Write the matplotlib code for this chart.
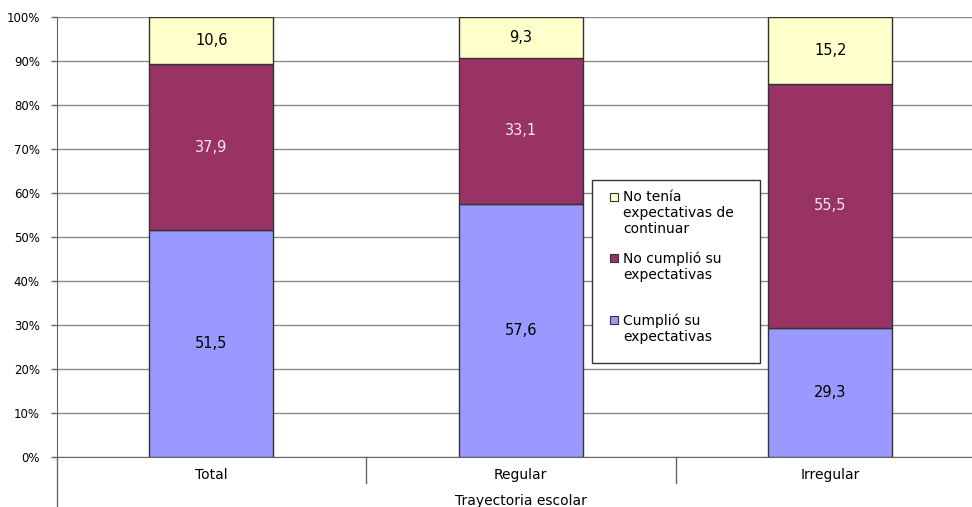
import matplotlib
matplotlib.use('Agg')
import matplotlib.pyplot as plt
from matplotlib.patches import Rectangle

# data
categories = ['Total', 'Regular', 'Irregular']
cumplio = [51.5, 57.6, 29.3]
no_cumplio = [37.9, 33.1, 55.5]
no_tenia = [10.6, 9.3, 15.2]
yticks = [0, 10, 20, 30, 40, 50, 60, 70, 80, 90, 100]

c_blue = '#9999FF'
c_purple = '#993366'
c_yellow = '#FFFFCC'

plt.rcParams['font.family'] = ['DejaVu Sans']

W, H = 972, 507
fig = plt.figure(figsize=(W / 100, H / 100), dpi=100)
# axes runs off the right edge like the original
ax = fig.add_axes([56.5 / W, (H - 457) / H, 928.5 / W, 440 / H])

x = list(range(len(categories)))
bw = 0.4
series = [(cumplio, c_blue, 'black'),
          (no_cumplio, c_purple, '#F4E6EE'),
          (no_tenia, c_yellow, 'black')]
bottom = [0.0] * len(x)
for vals, col, tcol in series:
    ax.bar(x, vals, bw, bottom=bottom, color=col, edgecolor='#333333',
           linewidth=1, zorder=3)
    for xi, b, v in zip(x, bottom, vals):
        ax.text(xi, b + v / 2, f'{v:.1f}'.replace('.', ','), ha='center',
                va='center', fontsize=10.5, color=tcol, zorder=4)
    bottom = [b + v for b, v in zip(bottom, vals)]

ax.set_xlim(-0.5, 2.5)
ax.set_ylim(0, 100)
ax.set_yticks(yticks)
ax.set_yticklabels([f'{t}%' for t in yticks], fontsize=8.5)
ax.yaxis.grid(True, color='#8a8a8a', linewidth=1, zorder=0)
ax.tick_params(axis='y', length=4, width=1, color='#666666', pad=8)
ax.set_xticks(x)
ax.set_xticklabels(categories, fontsize=10)
ax.tick_params(axis='x', length=0, pad=8)
for s in ['top', 'right']:
    ax.spines[s].set_visible(False)
ax.spines['left'].set_color('#666666')
ax.spines['bottom'].set_color('#666666')

# category separators and the long left line of the grouped axis
tr = ax.get_xaxis_transform()
for sx in [0.5, 1.5]:
    ax.plot([sx, sx], [0, -0.06], transform=tr, color='#666666', lw=1,
            clip_on=False)
ax.plot([-0.5, -0.5], [0, -0.12], transform=tr, color='#666666', lw=1,
        clip_on=False)
ax.text(0.5 * (len(x) - 1), -0.1, 'Trayectoria escolar', transform=tr,
        ha='center', va='center', fontsize=10)

# legend drawn by hand so markers sit at the first line of each label
def fx(px):
    return px / W

def fy(py):
    return 1 - py / H

fig.patches.append(Rectangle((fx(592), fy(363)), fx(760) - fx(592),
                             fy(180) - fy(363), transform=fig.transFigure,
                             facecolor='white', edgecolor='#333333', lw=1,
                             zorder=5))
legend_items = [('No tenía\nexpectativas de\ncontinuar', c_yellow, 197),
                ('No cumplió su\nexpectativas', c_purple, 258),
                ('Cumplió su\nexpectativas', c_blue, 320)]
for lab, col, ly in legend_items:
    fig.patches.append(Rectangle((fx(610), fy(ly + 4)), fx(8), 8 / H,
                                 transform=fig.transFigure, facecolor=col,
                                 edgecolor='#333333', lw=0.8, zorder=6))
    fig.text(fx(623), fy(ly - 7), lab, ha='left', va='top', fontsize=10,
             linespacing=1.2, zorder=7)

fig.savefig('out.png', dpi=100)
